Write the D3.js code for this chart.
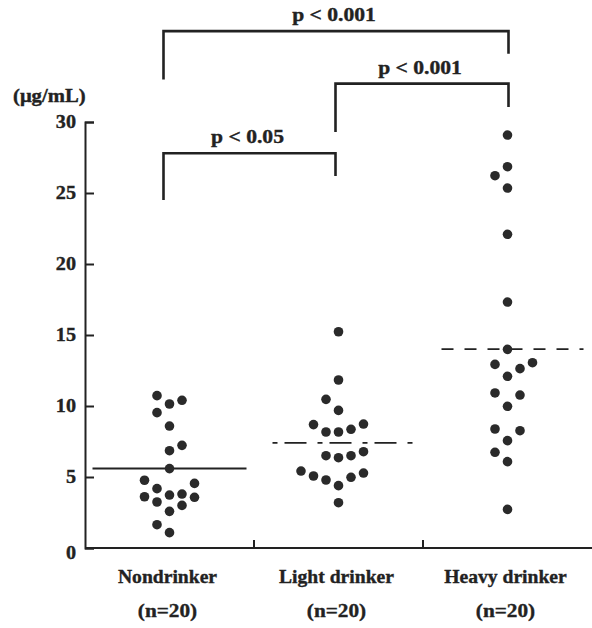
<!DOCTYPE html>
<html><head><meta charset="utf-8">
<script src="https://cdn.jsdelivr.net/npm/d3@7"></script>
<style>
html,body{margin:0;padding:0;background:#fff;}
svg{display:block;}
text{font-family:"Liberation Serif","Times New Roman",serif;font-weight:bold;fill:#222;stroke:#222;stroke-width:0.35px;}
</style></head>
<body>
<svg id="chart" width="592" height="628"></svg>
<script>
// ---- data ----
const categories = ["Nondrinker", "Light drinker", "Heavy drinker"];
const sampleSizes = ["(n=20)", "(n=20)", "(n=20)"];
const nondrinkerValues = [10.73,10.14,10.4,9.53,8.59,7.23,6.85,5.59,4.77,4.55,4.18,3.61,3.73,3.80,3.57,3.24,3.0,2.58,1.64,1.08];
const nondrinkerLanes  = [-1,0,1,-1,0,1,0,0,-2,2,-1,-2,0,1,2,-1,1,0,-1,0];
const lightValues = [15.23,11.83,10.47,9.69,8.69,8.17,8.17,8.36,8.73,6.50,6.36,6.50,6.78,5.42,5.07,4.79,4.39,4.98,5.28,3.19];
const lightLanes  = [0,0,-1,0,-2,-1,0,1,2,-1,0,1,2,-3,-2,-1,0,1,2,0];
const heavyValues = [29.08,26.85,26.22,25.35,22.09,17.32,13.99,12.93,12.63,13.05,12.09,10.92,10.77,9.98,8.38,8.26,7.56,6.74,6.08,2.72];
const heavyLanes  = [0,0,-1,0,0,0,0,-1,1,2,0,-1,1,0,-1,1,0,-1,0,0];
const means = [5.6, 7.4, 14.0];
const yTicks = [0, 5, 10, 15, 20, 25, 30];
const unitLabel = "(\u03bcg/mL)";
const comparisons = [
  {a: 0, b: 2, label: "p < 0.001", bar: 36.4, legA: 33.0, legB: 34.8},
  {a: 1, b: 2, label: "p < 0.001", bar: 32.7, legA: 29.3, legB: 31.05},
  {a: 0, b: 1, label: "p < 0.05",  bar: 27.8, legA: 24.5, legB: 26.2}
];

// ---- layout ----
const svg = d3.select("#chart");
const ink = "#222";
const mLeft = 85, mRight = 592, mTop = 122, mBottom = 548;
const x = d3.scaleBand().domain(categories).range([mLeft, mRight]).padding(0);
const y = d3.scaleLinear().domain([0, 30]).range([mBottom, mTop]);
const lane = d3.scaleLinear().domain([0, 1]).range([0, 12.5]);
const cx = c => x(c) + x.bandwidth() / 2;

// y axis
const yAxis = d3.axisLeft(y).tickValues(yTicks).tickSize(-9).tickSizeOuter(-9).tickPadding(9).tickFormat(d3.format("d"));
const gy = svg.append("g").attr("transform", `translate(${mLeft},0)`).call(yAxis);
gy.selectAll("path,line").attr("stroke", ink).attr("stroke-width", 2);
gy.selectAll(".tick text").attr("font-size", 18).attr("fill", ink)
  .attr("font-family", '"Liberation Serif","Times New Roman",serif').attr("font-weight", "bold")
  .attr("x", null).attr("dy", null)
  .attr("transform", d => `translate(-9,${d === 0 ? 10 : 5}) scale(1.12,1)`);

// unit label
svg.append("text").attr("transform", "translate(13,102) scale(1.15,1)").attr("font-size", 18).text(unitLabel);

// x axis
svg.append("line").attr("x1", mLeft).attr("x2", mRight).attr("y1", mBottom).attr("y2", mBottom)
  .attr("stroke", ink).attr("stroke-width", 2);
categories.slice(1).forEach(c => {
  svg.append("line").attr("x1", x(c)).attr("x2", x(c)).attr("y1", mBottom).attr("y2", mBottom - 8)
    .attr("stroke", ink).attr("stroke-width", 2);
});
categories.forEach((c, i) => {
  svg.append("text").attr("transform", `translate(${cx(c) - 2},583) scale(1.09,1)`)
    .attr("text-anchor", "middle").attr("font-size", 18).text(c);
  svg.append("text").attr("transform", `translate(${cx(c) - 2},617) scale(1.12,1)`)
    .attr("text-anchor", "middle").attr("font-size", 19).text(sampleSizes[i]);
});

// mean lines
const meanStyles = [
  {l: -77, r: 77, dash: null},
  {l: -66, r: 76, dash: "5,7,22,11"},
  {l: -66, r: 76, dash: "12,11"}
];
categories.forEach((c, i) => {
  const s = meanStyles[i];
  svg.append("line").attr("x1", cx(c) + s.l).attr("x2", cx(c) + s.r)
    .attr("y1", y(means[i])).attr("y2", y(means[i]))
    .attr("stroke", ink).attr("stroke-width", 1.8)
    .attr("stroke-dasharray", s.dash);
});

// dots
const groups = [
  {values: nondrinkerValues, lanes: nondrinkerLanes},
  {values: lightValues, lanes: lightLanes},
  {values: heavyValues, lanes: heavyLanes}
];
groups.forEach((g, i) => {
  const c = categories[i];
  svg.append("g").selectAll("circle").data(g.values).join("circle")
    .attr("cx", (d, j) => cx(c) + lane(g.lanes[j]))
    .attr("cy", d => y(d))
    .attr("r", 4.8)
    .attr("fill", "#2a2a2a");
});

// comparison brackets
comparisons.forEach(cmp => {
  const xa = cx(categories[cmp.a]) - (cmp.a === 0 ? 6 : 3);
  const xb = cx(categories[cmp.b]) + (cmp.b === 2 ? 1 : -3);
  const path = d3.path();
  path.moveTo(xa, y(cmp.legA));
  path.lineTo(xa, y(cmp.bar));
  path.lineTo(xb, y(cmp.bar));
  path.lineTo(xb, y(cmp.legB));
  svg.append("path").attr("d", path.toString()).attr("fill", "none")
    .attr("stroke", ink).attr("stroke-width", 2.6);
  svg.append("text").attr("transform", `translate(${(xa + xb) / 2 - 2},${y(cmp.bar) - 10}) scale(1.2,1)`)
    .attr("text-anchor", "middle").attr("font-size", 18).text(cmp.label);
});
</script>
</body></html>
